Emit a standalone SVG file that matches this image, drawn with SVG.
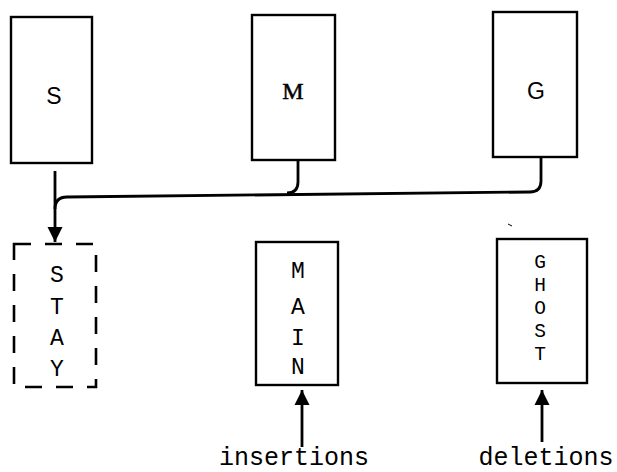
<svg xmlns="http://www.w3.org/2000/svg" width="617" height="472" viewBox="0 0 617 472">
  <style>
    .box { fill: #fff; stroke: #000; stroke-width: 2.4; }
    .dash { fill: none; stroke: #000; stroke-width: 2.6; stroke-dasharray: 17 14; }
    .wire { fill: none; stroke: #000; stroke-width: 2.8; stroke-linejoin: round; }
    .sans { font-family: "Liberation Sans", Arial, sans-serif; font-size: 23px; fill: #000; text-anchor: middle; }
    .serif { font-family: "Liberation Serif", "Times New Roman", serif; font-size: 24px; fill: #000; stroke: #000; stroke-width: 0.5; text-anchor: middle; }
    .mono { font-family: "Liberation Mono", "Courier New", monospace; font-size: 23px; fill: #000; text-anchor: middle; }
    .tight { font-size: 19.5px; }
    .label { font-family: "Liberation Mono", "Courier New", monospace; font-size: 25px; fill: #000; text-anchor: middle; }
  </style>
  <defs>
    <marker id="head" viewBox="0 0 10 10" refX="10" refY="5" markerWidth="5.5" markerHeight="5.5" orient="auto" markerUnits="strokeWidth">
      <path d="M0,0 L10,5 L0,10 Z" fill="#000"/>
    </marker>
  </defs>

  <rect width="617" height="472" fill="#fff"/>

  <!-- upper row -->
  <g id="node-S">
    <rect class="box" x="11" y="17" width="81" height="146"/>
    <text class="sans" x="54" y="104">S</text>
  </g>
  <g id="node-M">
    <rect class="box" x="252" y="15" width="83" height="145"/>
    <text class="serif" x="293" y="99">M</text>
  </g>
  <g id="node-G">
    <rect class="box" x="493" y="12" width="84" height="145"/>
    <text class="sans" x="536" y="99">G</text>
  </g>

  <!-- lower row -->
  <g id="node-STAY">
    <rect class="dash" x="14" y="244" width="82" height="143"/>
    <text class="mono" x="57" y="282">S</text>
    <text class="mono" x="57" y="314">T</text>
    <text class="mono" x="57" y="345">A</text>
    <text class="mono" x="57" y="376">Y</text>
  </g>
  <g id="node-MAIN">
    <rect class="box" x="256" y="242" width="82" height="143"/>
    <text class="mono" x="298" y="278">M</text>
    <text class="mono" x="298" y="314">A</text>
    <text class="mono" x="298" y="345">I</text>
    <text class="mono" x="298" y="374">N</text>
  </g>
  <g id="node-GHOST">
    <rect class="box" x="497" y="239" width="90" height="144"/>
    <text class="mono tight" x="540" y="268">G</text>
    <text class="mono tight" x="540" y="291">H</text>
    <text class="mono tight" x="540" y="314">O</text>
    <text class="mono tight" x="540" y="337">S</text>
    <text class="mono tight" x="540" y="360">T</text>
  </g>

  <!-- connectors -->
  <g id="connectors">
    <path class="wire" d="M55,171 V242" marker-end="url(#head)"/>
    <path class="wire" d="M541,157 V181 Q541,192 530,192 L67,197 Q55,197 55,209"/>
    <path class="wire" d="M298,160 V182 Q298,193 287,193"/>
    <path class="wire" d="M302,447 V390" marker-end="url(#head)"/>
    <path class="wire" d="M542,442 V390" marker-end="url(#head)"/>
    <line x1="508" y1="224" x2="512" y2="226" stroke="#000" stroke-width="1"/>
  </g>

  <text class="label" x="294" y="465">insertions</text>
  <text class="label" x="546" y="465">deletions</text>
</svg>
